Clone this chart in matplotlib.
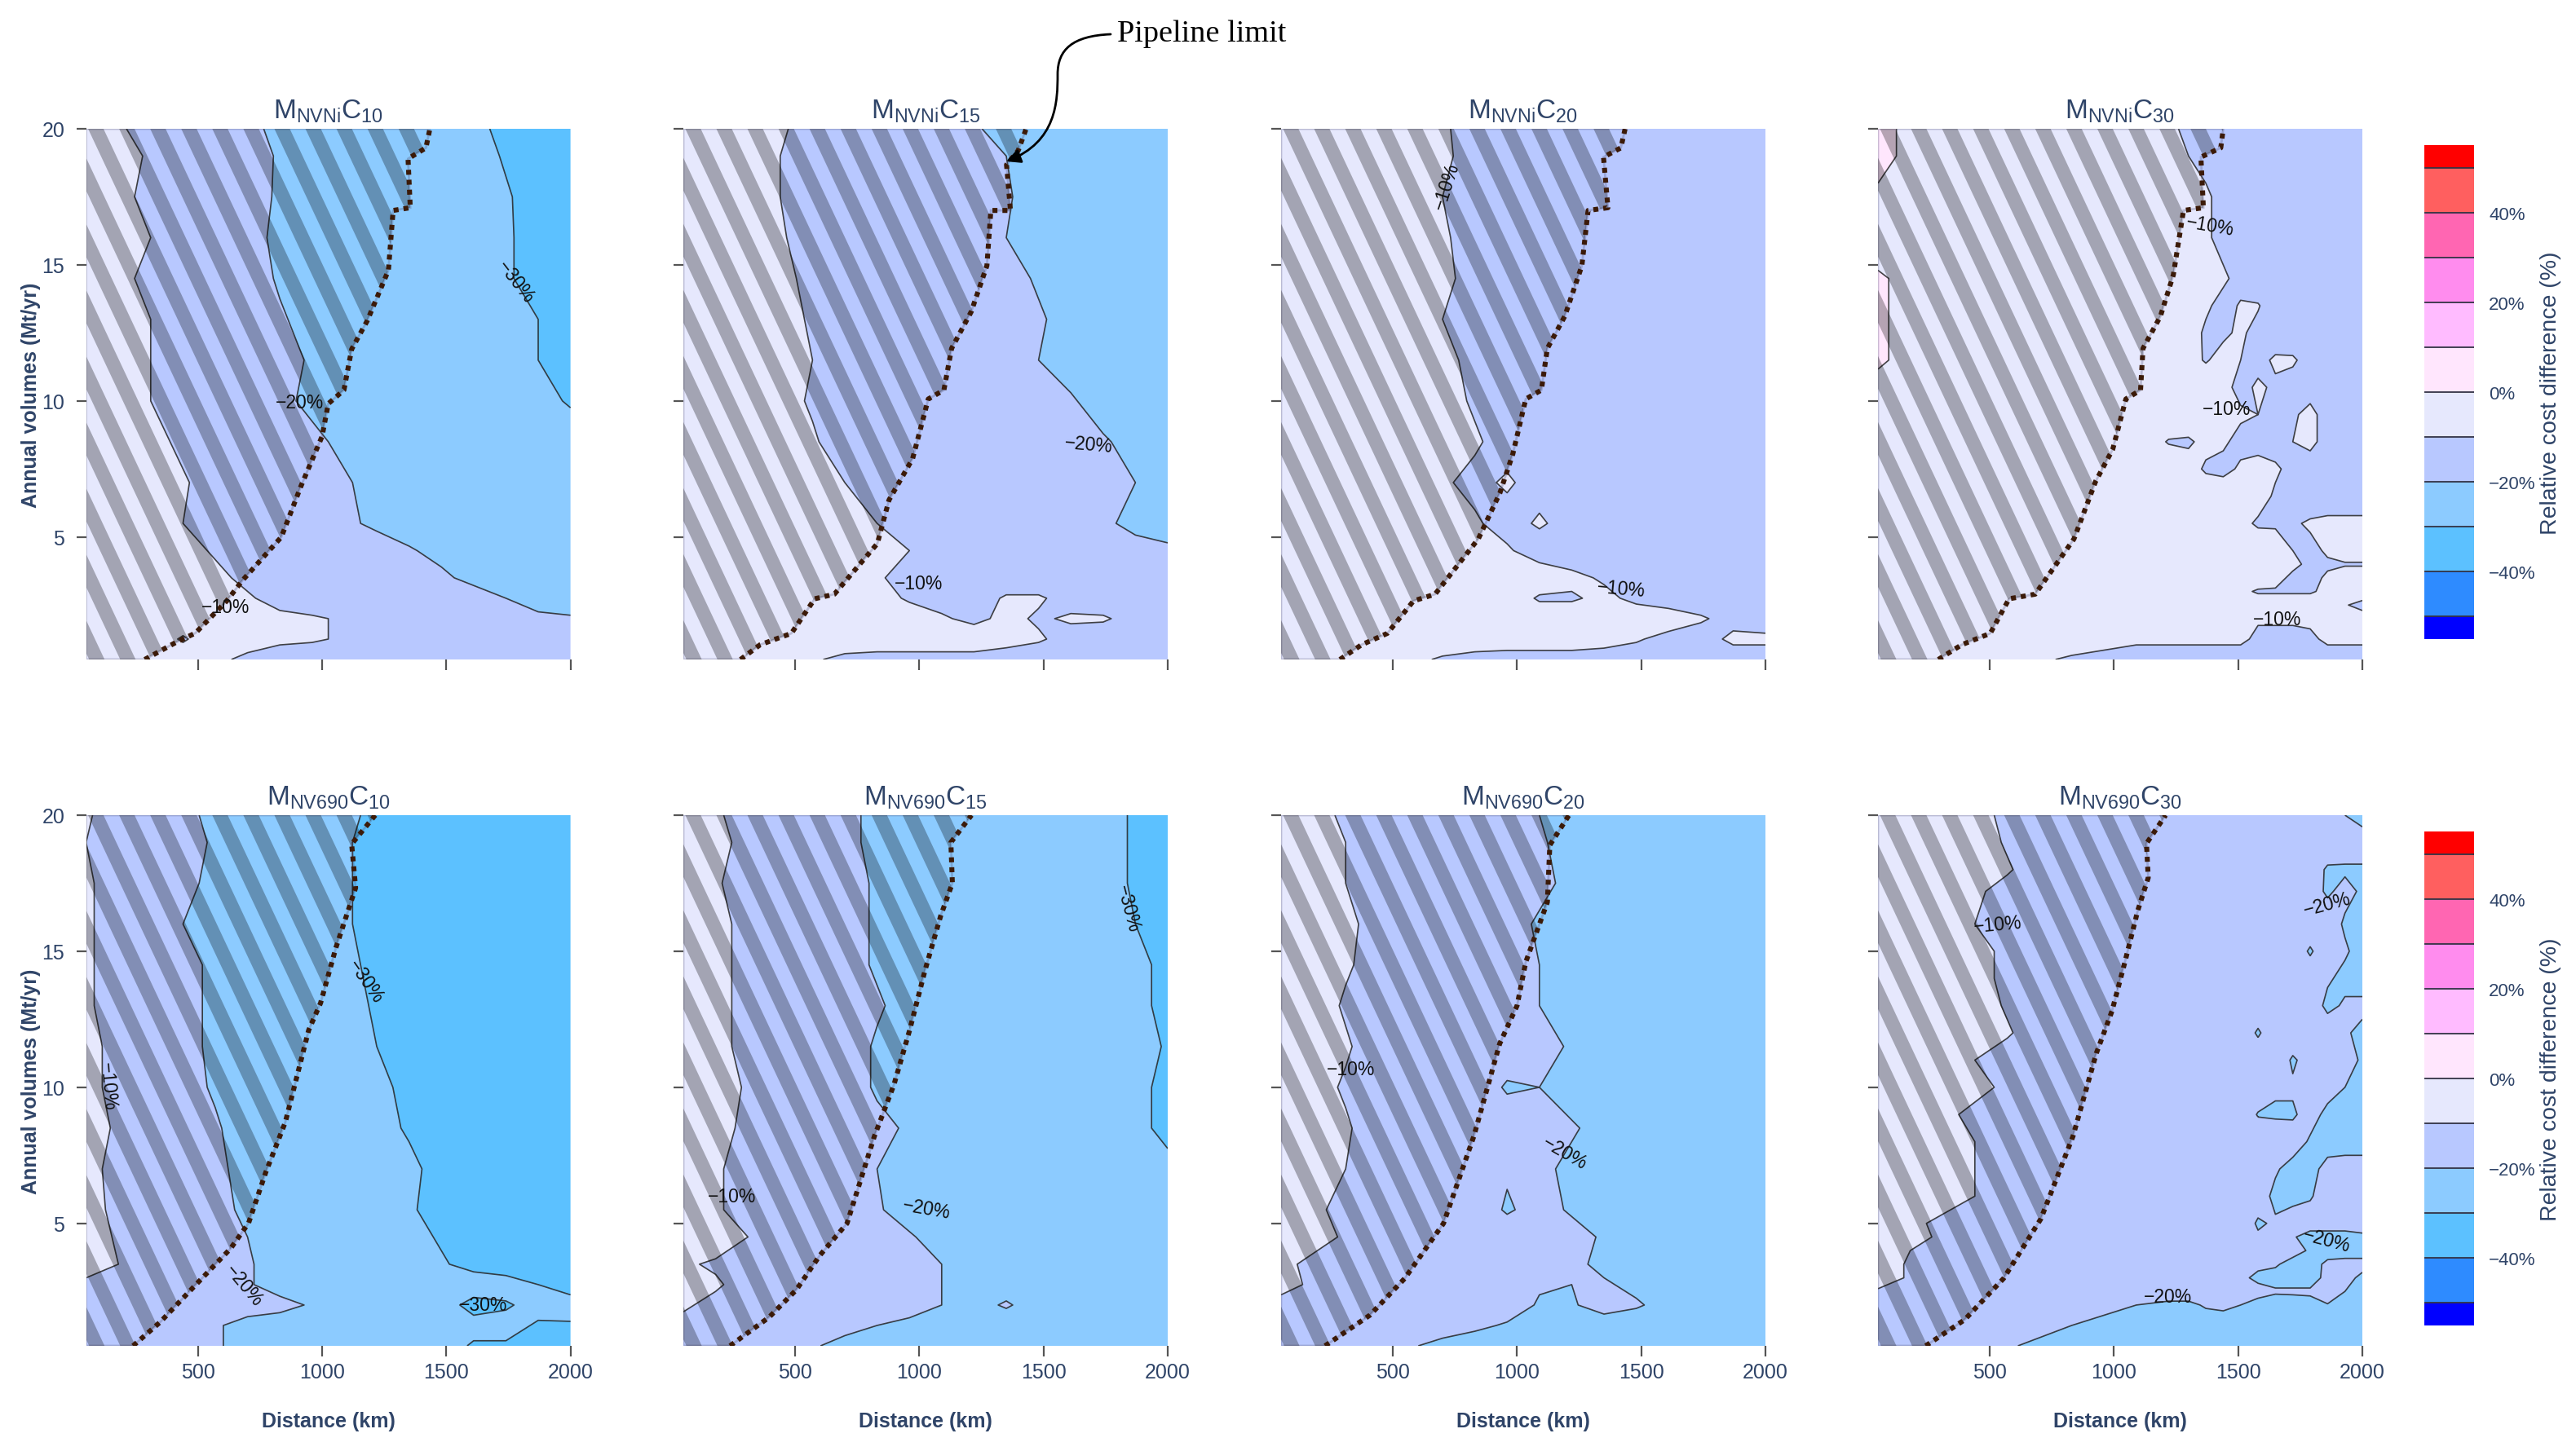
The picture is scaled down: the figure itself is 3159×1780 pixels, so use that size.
import numpy as np
import matplotlib
matplotlib.use('Agg')
import matplotlib.pyplot as plt
from matplotlib.patches import FancyArrowPatch, Polygon
from matplotlib.path import Path

plt.rcParams['font.family'] = 'Liberation Sans'
plt.rcParams['mathtext.fontset'] = 'custom'
plt.rcParams['mathtext.rm'] = 'Liberation Sans'
plt.rcParams['axes.unicode_minus'] = True

W, H = 3159, 1781
TXT = '#2f4468'

# Grids
distance = [50, 180, 310, 440, 570, 700, 830, 960, 1090, 1220, 1350, 1480, 1610, 1740, 1870, 2000]
volumes = [20, 19, 17.5, 16, 14.5, 13, 11.5, 10, 8.5, 7, 5.5, 4.5, 3.5, 2.75, 2, 1.25, 0.5]
# the two C30 panels have finer detail on the right
distance_fine = [50, 310, 570, 830, 1090, 1220, 1300, 1370, 1440, 1510, 1580, 1650, 1720, 1790, 1860, 1930, 2000]
volumes_nvni_c30 = [20, 19, 17.5, 16, 14.5, 13.5, 12.5, 11.5, 10.5, 9.5, 8.5, 7.5, 6.5, 5.5, 4.5, 4, 3.5, 3, 2.5, 2, 1.25, 0.5]
volumes_nv690_c30 = [20, 19, 18, 17.2, 16, 15, 14, 13, 12, 11, 10, 9, 8, 7, 6, 5, 4.5, 4, 3.5, 3, 2.5, 2, 1.25, 0.5]

levels = [-55, -50, -40, -30, -20, -10, 0, 10, 20, 30, 40, 50, 55]
band_colors = ['#0000ff', '#2e8bff', '#5cc1ff', '#8ccbff', '#b8c8ff', '#e6e8fd',
               '#ffe6fd', '#ffbbff', '#ff8cee', '#ff66b2', '#ff5f5f', '#ff0000']

nvni_c10 = [
    [-5, -9, -13, -15, -15, -18, -22, -25, -25, -25, -25, -25, -28, -32, -35, -35],
    [-5, -7, -11, -15, -15, -16, -21, -25, -25, -25, -25, -25, -26, -31, -35, -35],
    [-5, -8, -12, -15, -15, -17, -21, -25, -25, -25, -25, -25, -25, -29, -34, -35],
    [-5, -6, -10, -15, -15, -17, -22, -25, -25, -25, -25, -25, -25, -29, -33, -35],
    [-5, -8, -12, -15, -15, -16, -21, -25, -25, -25, -25, -25, -25, -29, -33, -35],
    [-5, -6, -10, -15, -15, -15, -19, -23, -25, -25, -25, -25, -25, -26, -30, -35],
    [-5, -6, -10, -15, -15, -15, -17, -21, -25, -25, -25, -25, -25, -26, -30, -35],
    [-5, -5, -10, -14, -15, -15, -18, -22, -25, -25, -25, -25, -25, -25, -27, -31],
    [-5, -5, -7, -12, -15, -15, -15, -18, -22, -25, -25, -25, -25, -25, -25, -25],
    [-5, -5, -5, -9, -14, -15, -15, -15, -19, -23, -25, -25, -25, -25, -25, -25],
    [-5, -5, -5, -10, -14, -15, -15, -15, -18, -22, -25, -25, -25, -25, -25, -25],
    [-5, -5, -5, -7, -11, -15, -15, -15, -15, -15, -19, -23, -25, -25, -25, -25],
    [-5, -5, -5, -5, -8, -12, -15, -15, -15, -15, -15, -18, -23, -25, -25, -25],
    [-5, -5, -5, -5, -5, -9, -13, -15, -15, -15, -15, -15, -15, -20, -24, -25],
    [-5, -5, -5, -5, -5, -7, -8, -9, -11, -15, -15, -15, -16, -17, -18, -19],
    [-5, -5, -5, -11, -5, -6, -8, -9, -11, -14, -15, -15, -15, -15, -15, -16],
    [-5, -5, -5, -5, -8, -12, -15, -15, -15, -15, -15, -15, -15, -15, -15, -19],
]
nvni_c15 = [
    [-5, -5, -5, -9, -13, -15, -15, -15, -15, -19, -23, -25, -25, -25, -25, -25],
    [-5, -5, -5, -10, -14, -15, -15, -15, -15, -16, -20, -25, -25, -25, -25, -25],
    [-5, -5, -5, -10, -14, -15, -15, -15, -15, -15, -19, -24, -25, -25, -25, -25],
    [-5, -5, -6, -9, -14, -15, -15, -15, -15, -16, -20, -25, -25, -25, -25, -25],
    [-5, -5, -5, -8, -12, -15, -15, -15, -15, -15, -17, -21, -25, -25, -25, -25],
    [-5, -5, -5, -7, -11, -15, -15, -15, -15, -15, -18, -19, -23, -25, -25, -25],
    [-5, -5, -5, -6, -10, -15, -15, -15, -15, -15, -16, -20, -24, -25, -25, -25],
    [-5, -5, -5, -7, -11, -15, -15, -15, -15, -15, -15, -15, -19, -24, -25, -25],
    [-5, -5, -5, -6, -9, -14, -15, -15, -15, -15, -15, -15, -15, -19, -23, -25],
    [-5, -5, -5, -5, -7, -10, -15, -15, -15, -15, -15, -15, -15, -16, -20, -24],
    [-5, -5, -5, -5, -5, -6, -10, -14, -15, -15, -15, -15, -15, -18, -23, -25],
    [-5, -5, -5, -5, -5, -5, -5, -10, -14, -15, -15, -15, -15, -15, -16, -18],
    [-5, -5, -5, -5, -5, -6, -9, -13, -15, -15, -15, -15, -15, -15, -15, -15],
    [-5, -5, -5, -5, -5, -5, -7, -11, -13, -14, -9, -9, -13, -15, -15, -15],
    [-5, -5, -5, -5, -5, -5, -5, -6, -9, -12, -8, -11, -9, -9, -13, -15],
    [-5, -5, -5, -5, -5, -5, -5, -5, -5, -5, -7, -9, -13, -15, -15, -15],
    [-5, -5, -5, -5, -9, -12, -13, -13, -13, -13, -14, -15, -15, -15, -15, -15],
]
nvni_c20 = [
    [-5, -5, -5, -6, -7, -9, -13, -15, -15, -15, -15, -15, -15, -15, -15, -15],
    [-5, -5, -5, -5, -7, -9, -12, -15, -15, -15, -15, -15, -15, -15, -15, -15],
    [-5, -5, -5, -6, -7, -10, -14, -15, -15, -15, -15, -15, -15, -15, -15, -15],
    [-5, -5, -5, -5, -7, -9, -13, -15, -15, -15, -15, -15, -15, -15, -15, -15],
    [-5, -5, -5, -5, -6, -8, -13, -15, -15, -15, -15, -15, -15, -15, -15, -15],
    [-5, -5, -5, -6, -8, -10, -14, -15, -15, -15, -15, -15, -15, -15, -15, -15],
    [-5, -5, -5, -5, -6, -8, -12, -15, -15, -15, -15, -15, -15, -15, -15, -15],
    [-5, -5, -5, -5, -5, -7, -11, -15, -15, -15, -15, -15, -15, -15, -15, -15],
    [-5, -5, -5, -5, -5, -6, -9, -13, -15, -15, -15, -15, -15, -15, -15, -15],
    [-5, -5, -5, -5, -6, -9, -12, -9, -13, -15, -15, -15, -15, -15, -15, -15],
    [-5, -5, -5, -5, -5, -6, -9, -13, -9, -13, -15, -15, -15, -15, -15, -15],
    [-5, -5, -5, -5, -5, -5, -6, -9, -14, -15, -15, -15, -15, -15, -15, -15],
    [-5, -5, -5, -5, -5, -5, -5, -5, -5, -8, -11, -15, -15, -15, -15, -15],
    [-5, -5, -5, -5, -5, -5, -5, -5, -11, -11, -8, -12, -15, -15, -15, -15],
    [-5, -5, -5, -5, -5, -5, -5, -5, -5, -5, -5, -5, -5, -9, -13, -15],
    [-5, -5, -5, -5, -5, -5, -5, -5, -5, -5, -6, -9, -13, -14, -8, -8],
    [-5, -5, -5, -5, -8, -11, -13, -14, -14, -14, -15, -15, -15, -15, -15, -15],
]
nvni_c30 = [
    [2, -5, -5, -5, -6, -9, -11, -13, -15, -15, -15, -15, -15, -15, -15, -15, -15],
    [2, -5, -5, -5, -5, -8, -10, -12, -15, -15, -15, -15, -15, -15, -15, -15, -15],
    [-1, -5, -5, -5, -5, -6, -7, -9, -12, -15, -15, -15, -15, -15, -15, -15, -15],
    [-4, -5, -5, -5, -5, -6, -7, -9, -12, -15, -15, -15, -15, -15, -15, -15, -15],
    [1, -5, -5, -5, -5, -5, -6, -8, -9, -12, -15, -15, -15, -15, -15, -15, -15],
    [1, -5, -5, -5, -5, -6, -7, -9, -12, -9.5, -9.5, -14, -15, -15, -15, -15, -15],
    [1, -5, -5, -5, -5, -5, -7, -11, -11, -9, -12, -14, -15, -15, -15, -15, -15],
    [1, -5, -5, -5, -5, -6, -8, -10.5, -8, -10, -12, -9, -9, -13, -15, -15, -15],
    [-2, -5, -5, -5, -5, -5, -5, -6, -8, -12, -9, -11, -13, -13, -15, -15, -15],
    [-5, -5, -5, -5, -5, -5, -5, -7, -9, -9, -10, -12, -11, -8, -13, -15, -15],
    [-5, -5, -5, -5, -5, -10.5, -11, -8, -9, -12, -13, -13, -10, -8, -13, -15, -15],
    [-5, -5, -5, -5, -5, -5, -7, -11, -12, -9, -7, -9, -12, -14, -15, -15, -15],
    [-5, -5, -5, -5, -5, -5, -5, -5, -5, -5, -7, -11, -14, -15, -15, -15, -15],
    [-5, -5, -5, -5, -5, -5, -5, -5, -5, -8, -11, -11, -11, -9, -8, -8, -8],
    [-5, -5, -5, -5, -5, -5, -5, -5, -5, -5, -5, -6, -10, -12, -9, -7, -7],
    [-5, -5, -5, -5, -5, -5, -5, -5, -5, -5, -5, -5, -8, -12, -11, -10.5, -10.5],
    [-5, -5, -5, -5, -5, -5, -5, -5, -5, -5, -5, -7, -12, -12, -9, -7, -7],
    [-5, -5, -5, -5, -5, -5, -5, -5, -5, -8, -11, -11, -11, -11, -8, -6, -6],
    [-5, -5, -5, -5, -5, -5, -5, -5, -5, -5, -5, -5, -5, -5, -5, -9.5, -12],
    [-5, -5, -5, -5, -5, -5, -5, -5, -5, -6, -9, -9, -9, -8, -7, -7, -7],
    [-5, -5, -5, -6, -8, -8, -8, -8, -8, -8, -12, -12, -12, -12, -8, -8, -8],
    [-5, -5, -7, -11, -15, -15, -15, -15, -15, -15, -15, -15, -15, -15, -15, -15, -15],
]
nv690_c10 = [
    [-9, -14, -15, -18, -22, -25, -25, -25, -28, -32, -35, -35, -35, -35, -35, -35],
    [-10, -14, -15, -17, -21, -25, -25, -25, -29, -33, -35, -35, -35, -35, -35, -35],
    [-9, -13, -15, -18, -22, -25, -25, -25, -29, -33, -35, -35, -35, -35, -35, -35],
    [-9, -13, -15, -20, -24, -25, -25, -25, -29, -33, -35, -35, -35, -35, -35, -35],
    [-9, -13, -15, -17, -22, -25, -25, -25, -28, -32, -35, -35, -35, -35, -35, -35],
    [-9, -13, -15, -17, -22, -25, -25, -25, -27, -31, -35, -35, -35, -35, -35, -35],
    [-8, -12, -15, -17, -22, -25, -25, -25, -26, -30, -35, -35, -35, -35, -35, -35],
    [-8, -12, -15, -17, -21, -25, -25, -25, -25, -28, -32, -35, -35, -35, -35, -35],
    [-7, -11, -15, -15, -19, -24, -25, -25, -25, -27, -31, -35, -35, -35, -35, -35],
    [-8, -12, -15, -15, -18, -23, -25, -25, -25, -25, -28, -33, -35, -35, -35, -35],
    [-7, -12, -15, -15, -17, -22, -25, -25, -25, -25, -29, -33, -35, -35, -35, -35],
    [-6, -11, -15, -15, -16, -20, -24, -25, -25, -25, -27, -31, -35, -35, -35, -35],
    [-6, -10, -14, -15, -15, -19, -24, -25, -25, -25, -25, -29, -33, -35, -35, -35],
    [-12, -13, -15, -15, -15, -19, -24, -25, -25, -25, -25, -25, -25, -26, -30, -34],
    [-15, -15, -15, -15, -15, -16, -17, -21, -25, -25, -25, -26, -33, -31, -27, -26],
    [-15, -15, -15, -15, -19, -23, -25, -25, -25, -25, -25, -25, -27, -27, -31, -31],
    [-15, -15, -15, -15, -19, -23, -25, -25, -25, -25, -25, -26, -31, -31, -33, -33],
]
nv690_c15 = [
    [-5, -9, -13, -15, -15, -18, -22, -25, -25, -25, -25, -25, -25, -27, -31, -35],
    [-5, -8, -12, -15, -15, -18, -22, -25, -25, -25, -25, -25, -25, -27, -31, -35],
    [-5, -9, -14, -15, -15, -17, -21, -25, -25, -25, -25, -25, -25, -27, -31, -35],
    [-5, -8, -12, -15, -15, -17, -21, -25, -25, -25, -25, -25, -25, -25, -30, -34],
    [-5, -8, -12, -15, -15, -17, -21, -25, -25, -25, -25, -25, -25, -25, -28, -32],
    [-5, -8, -12, -15, -15, -15, -19, -23, -25, -25, -25, -25, -25, -25, -28, -32],
    [-5, -8, -12, -15, -15, -16, -21, -25, -25, -25, -25, -25, -25, -25, -26, -31],
    [-5, -6, -11, -15, -15, -16, -21, -25, -25, -25, -25, -25, -25, -25, -28, -32],
    [-5, -7, -12, -15, -15, -15, -18, -21, -25, -25, -25, -25, -25, -25, -28, -32],
    [-5, -9, -13, -15, -15, -16, -20, -24, -25, -25, -25, -25, -25, -25, -26, -28],
    [-5, -9, -13, -15, -15, -15, -19, -24, -25, -25, -25, -25, -25, -25, -25, -25],
    [-5, -6, -10, -15, -15, -15, -15, -19, -24, -25, -25, -25, -25, -25, -25, -25],
    [-9, -11, -15, -15, -15, -15, -15, -15, -20, -24, -25, -25, -25, -25, -25, -25],
    [-6, -9, -13, -15, -15, -15, -15, -16, -20, -22, -24, -25, -25, -25, -25, -25],
    [-9, -12, -15, -15, -15, -15, -15, -15, -20, -23, -19, -24, -25, -25, -25, -25],
    [-12, -14, -15, -15, -15, -17, -20, -23, -22, -24, -25, -25, -25, -25, -25, -25],
    [-15, -15, -15, -15, -19, -23, -25, -25, -25, -25, -25, -25, -25, -25, -25, -25],
]
nv690_c20 = [
    [-5, -8, -11, -15, -15, -15, -15, -17, -20, -24, -25, -25, -25, -25, -25, -25],
    [-5, -5, -10, -14, -15, -15, -15, -16, -19, -23, -25, -25, -25, -25, -25, -25],
    [-5, -5, -10, -14, -15, -15, -15, -16, -18, -22, -25, -25, -25, -25, -25, -25],
    [-5, -5, -8, -13, -15, -15, -15, -17, -21, -25, -25, -25, -25, -25, -25, -25],
    [-5, -5, -9, -13, -15, -15, -15, -16, -20, -24, -25, -25, -25, -25, -25, -25],
    [-5, -6, -11, -15, -15, -15, -15, -16, -20, -24, -25, -25, -25, -25, -25, -25],
    [-5, -5, -9, -14, -15, -15, -15, -15, -17, -21, -25, -25, -25, -25, -25, -25],
    [-5, -7, -11, -15, -15, -15, -15, -21, -20, -24, -25, -25, -25, -25, -25, -25],
    [-5, -5, -9, -14, -15, -15, -15, -15, -18, -19, -23, -25, -25, -25, -25, -25],
    [-5, -5, -10, -14, -15, -15, -15, -19, -18, -22, -25, -25, -25, -25, -25, -25],
    [-5, -8, -13, -15, -15, -15, -15, -21, -17, -21, -25, -25, -25, -25, -25, -25],
    [-5, -7, -11, -15, -15, -15, -15, -15, -15, -17, -21, -25, -25, -25, -25, -25],
    [-8, -12, -15, -15, -15, -15, -15, -15, -15, -18, -22, -25, -25, -25, -25, -25],
    [-8, -11, -14, -15, -15, -15, -15, -15, -19, -20, -19, -22, -25, -25, -25, -25],
    [-12, -15, -15, -15, -15, -15, -15, -15, -21, -21, -16, -19, -23, -25, -25, -25],
    [-15, -15, -15, -15, -15, -15, -18, -21, -21, -23, -25, -25, -25, -25, -25, -25],
    [-15, -15, -15, -15, -19, -23, -25, -25, -25, -25, -25, -25, -25, -25, -25, -25],
]
nv690_c30 = [
    [-5, -6, -11, -15, -15, -15, -15, -15, -15, -15, -15, -15, -15, -15, -17, -20, -23],
    [-5, -5, -10.5, -15, -15, -15, -15, -15, -15, -15, -15, -15, -15, -15, -15, -16, -16],
    [-5, -5, -9.5, -15, -15, -15, -15, -15, -15, -15, -15, -15, -15, -16, -21, -21, -21],
    [-5, -7, -11.5, -15, -15, -15, -15, -15, -15, -15, -15, -15, -15, -17, -21, -18, -21],
    [-5, -8, -12, -15, -15, -15, -15, -15, -15, -15, -15, -15, -15, -15, -16, -21, -23],
    [-5, -6, -11, -15, -15, -15, -15, -15, -15, -15, -15, -15, -15, -21, -15, -19, -23],
    [-5, -6, -11, -15, -15, -15, -15, -15, -15, -15, -15, -15, -15, -15, -19, -22, -24],
    [-5, -5, -10.5, -15, -15, -15, -15, -15, -15, -15, -15, -15, -15, -15, -22, -19, -18],
    [-5, -5, -9.5, -15, -15, -15, -15, -15, -15, -15, -21, -15, -15, -15, -15, -19, -22],
    [-5, -8, -12, -15, -15, -15, -15, -15, -15, -15, -15, -15, -21, -17, -15, -17, -21],
    [-5, -6, -11, -15, -15, -15, -15, -15, -15, -15, -15, -19, -19, -15, -17, -20, -23],
    [-5, -9, -13, -15, -15, -15, -15, -15, -15, -15, -20.5, -21, -21, -17, -22, -24, -25],
    [-5, -8, -12, -15, -15, -15, -15, -15, -15, -15, -15, -15, -16, -21, -24, -25, -25],
    [-5, -8, -12, -15, -15, -15, -15, -15, -15, -15, -15, -19, -23, -23, -17, -15, -15],
    [-5, -8, -12, -15, -15, -15, -15, -15, -15, -15, -16, -22, -23, -21, -15, -15, -15],
    [-7, -11, -15, -15, -15, -15, -15, -15, -15, -15, -21, -19, -15, -15, -15, -15, -15],
    [-5, -11, -15, -15, -15, -15, -15, -15, -15, -15, -19, -15, -19, -24, -24, -24, -22],
    [-7, -13, -15, -15, -15, -15, -15, -15, -15, -15, -15, -15, -17, -21, -24, -24, -24],
    [-8, -13, -15, -15, -15, -15, -15, -15, -15, -15, -18, -19, -23, -24, -18, -17, -17],
    [-8, -13, -15, -15, -15, -15, -15, -15, -15, -18, -22, -23, -23, -23, -18, -17, -22],
    [-10.5, -15, -15, -15, -15, -15, -15, -15, -15, -15, -17, -19, -19, -19, -15, -20, -22],
    [-13, -15, -15, -15, -20, -22, -22, -19, -18, -20, -23, -24, -23, -22, -20.5, -21, -21],
    [-15, -15, -15, -20, -24, -25, -25, -25, -25, -25, -25, -25, -25, -25, -25, -25, -25],
    [-15, -15, -19, -25, -25, -25, -25, -25, -25, -25, -25, -25, -25, -25, -25, -25, -25],
]

# Pipeline limit
limit_x_1 = [286, 412, 490, 616, 679, 836, 915, 1000, 1025, 1088, 1119, 1182, 1267, 1286, 1355, 1346, 1418, 1434]
limit_y_1 = [0.5, 1.13, 1.47, 2.65, 3.4, 5.0, 6.87, 8.7, 9.9, 10.4, 11.9, 12.95, 14.8, 17.0, 17.1, 18.9, 19.3, 20]
limit_x_2 = [280, 359, 485, 579, 658, 831, 878, 973, 1036, 1099, 1130, 1209, 1272, 1288, 1367, 1351, 1398, 1430]
limit_y_2 = [0.5, 1.04, 1.46, 2.73, 2.9, 4.76, 6.36, 7.88, 10.07, 10.4, 11.93, 13.28, 14.97, 17, 17, 18.68, 19.2, 20]
limit_x_3 = [287, 374, 478, 583, 670, 844, 931, 983, 1035, 1098, 1122, 1192, 1261, 1286, 1366, 1348, 1418, 1435]
limit_y_3 = [0.5, 1.04, 1.46, 2.65, 2.9, 4.93, 6.62, 8.05, 10.07, 10.4, 11.93, 13.11, 14.97, 17, 17.1, 18.96, 19.3, 20]
limit_x_4 = [293, 387, 502, 578, 683, 839, 926, 995, 1048, 1107, 1117, 1187, 1239, 1280, 1360, 1350, 1430, 1440]
limit_y_4 = [0.5, 1.04, 1.46, 2.73, 2.9, 4.93, 7.04, 8.22, 10.07, 10.4, 11.93, 13.11, 14.63, 17, 17.1, 18.96, 19.3, 20]
limit_x_5 = [239, 349, 490, 632, 704, 773, 852, 946, 994, 1056, 1135, 1119, 1214]
limit_y_5 = [0.5, 1.38, 2.73, 4.08, 5.01, 6.87, 8.72, 12.1, 13.1, 15.14, 17.33, 18.94, 20]
limit_x_6 = [238, 395, 505, 600, 709, 819, 898, 961, 1023, 1086, 1133, 1127, 1210]
limit_y_6 = [0.5, 1.55, 2.56, 3.83, 5.0, 8.2, 10.1, 12.1, 14.3, 16.3, 17.5, 19, 20]
limit_x_7 = [227, 408, 548, 704, 826, 930, 1000, 1035, 1122, 1132, 1209]
limit_y_7 = [0.5, 1.63, 2.98, 5.0, 8.2, 11.6, 13, 14.6, 16.8, 18.9, 20]
limit_x_8 = [242, 399, 556, 706, 835, 929, 992, 1044, 1096, 1138, 1131, 1208]
limit_y_8 = [0.5, 1.46, 2.98, 5.17, 8.2, 11.25, 12.8, 14.6, 16.5, 17.7, 18.96, 20]

titles = [r'$\mathregular{M_{NVNi}C_{10}}$', r'$\mathregular{M_{NVNi}C_{15}}$',
          r'$\mathregular{M_{NVNi}C_{20}}$', r'$\mathregular{M_{NVNi}C_{30}}$',
          r'$\mathregular{M_{NV690}C_{10}}$', r'$\mathregular{M_{NV690}C_{15}}$',
          r'$\mathregular{M_{NV690}C_{20}}$', r'$\mathregular{M_{NV690}C_{30}}$']
grids = [(distance, volumes, nvni_c10), (distance, volumes, nvni_c15), (distance, volumes, nvni_c20),
         (distance_fine, volumes_nvni_c30, nvni_c30), (distance, volumes, nv690_c10), (distance, volumes, nv690_c15),
         (distance, volumes, nv690_c20), (distance_fine, volumes_nv690_c30, nv690_c30)]
limits = [(limit_x_1, limit_y_1), (limit_x_2, limit_y_2), (limit_x_3, limit_y_3), (limit_x_4, limit_y_4),
          (limit_x_5, limit_y_5), (limit_x_6, limit_y_6), (limit_x_7, limit_y_7), (limit_x_8, limit_y_8)]

# x, y, text, rotation
contour_labels = [
    [(610, 2.44, '\u221210%', 0), (909, 9.94, '\u221220%', 0), (1780, 14.4, '\u221230%', -52)],
    [(998, 3.3, '\u221210%', 0), (1682, 8.4, '\u221220%', -5)],
    [(715, 17.9, '\u221210%', 72), (1418, 3.1, '\u221210%', -5)],
    [(1388, 16.45, '\u221210%', -10), (1454, 9.7, '\u221210%', 0), (1656, 1.97, '\u221210%', 0)],
    [(138, 10.07, '\u221210%', -85), (1176, 13.9, '\u221230%', -55), (685, 2.73, '\u221220%', -50), (1648, 2.0, '\u221230%', 0)],
    [(1840, 16.6, '\u221230%', -75), (245, 6.0, '\u221210%', 0), (1030, 5.55, '\u221220%', -10)],
    [(332, 10.67, '\u221210%', 0), (1191, 7.6, '\u221220%', -30)],
    [(531, 16.0, '\u221210%', 5), (1857, 16.74, '\u221220%', 15), (1857, 4.37, '\u221220%', -15), (1218, 2.31, '\u221220%', 0)],
]

lefts = [105.6, 838, 1571, 2303]
tops = [159, 1001]
ax_w, ax_h = 594, 651
stripe_period = 125
stripe_width = 62
stripe_shift = 51.5  # km per Mt/yr


def px_axes(l, t, w, h):
    return fig.add_axes([l / W, 1 - (t + h) / H, w / W, h / H])


fig = plt.figure(figsize=(W / 100, H / 100), dpi=100)
cf = None
for i in range(8):
    ax = px_axes(lefts[i % 4], tops[i // 4], ax_w, ax_h)
    xx, yy, grid = grids[i]
    z = np.array(grid, dtype=float)[::-1]
    yy = np.array(yy)[::-1]
    cf = ax.contourf(xx, yy, z, levels=levels, colors=band_colors, antialiased=True)
    ax.contour(xx, yy, z, levels=levels[1:-1], colors='#222222', linewidths=1.2, alpha=0.85, linestyles='solid')

    # shaded stripes left of the pipeline limit
    lx, ly = limits[i]
    corners = list(zip(lx, ly)) + [(50, 20), (50, 0.5)]
    clip = Polygon(corners, closed=True, facecolor='none', edgecolor='#555577', lw=2, alpha=0.3, zorder=3)
    ax.add_patch(clip)
    for k in range(-12, 14):
        tx = 58 + k * stripe_period
        drop = stripe_shift * 19.5
        st = Polygon([(tx, 20), (tx + stripe_width, 20), (tx + stripe_width + drop, 0.5), (tx + drop, 0.5)],
                     closed=True, facecolor='black', alpha=0.29, lw=0, zorder=3)
        ax.add_patch(st)
        st.set_clip_path(clip)
    ax.plot(lx, ly, color='#3b1a08', lw=4.4, linestyle=(0, (1, 1)), zorder=4, dash_capstyle='butt')

    for x, y, s, rot in contour_labels[i]:
        ax.text(x, y, s, fontsize=16.5, color='#111111', rotation=rot, ha='center', va='center',
                rotation_mode='anchor', zorder=5)

    ax.set_xlim(50, 2000)
    ax.set_ylim(0.5, 20)
    ax.set_xticks([500, 1000, 1500, 2000])
    ax.set_yticks([5, 10, 15, 20])
    for side in ax.spines:
        ax.spines[side].set_visible(False)
    ax.tick_params(axis='both', length=9, width=1.6, color='#555555', labelcolor=TXT, labelsize=18)
    ax.tick_params(axis='x', labelbottom=i >= 4, pad=5.5)
    ax.tick_params(axis='y', labelleft=i % 4 == 0, pad=10)
    ax.set_title(titles[i], fontsize=24, color=TXT, pad=10)
    if i >= 4:
        ax.set_xlabel('Distance (km)', fontsize=18, fontweight='bold', color=TXT, labelpad=26)
    if i % 4 == 0:
        ax.set_ylabel('Annual volumes (Mt/yr)', fontsize=18, fontweight='bold', color=TXT, labelpad=1)

# colour bars
for top in (179, 1021):
    cax = px_axes(2973, top, 61, 606)
    cb = fig.colorbar(cf, cax=cax, spacing='proportional', ticks=[-40, -20, 0, 20, 40], drawedges=True)
    cb.ax.set_yticklabels(['\u221240%', '\u221220%', '0%', '20%', '40%'])
    cb.ax.tick_params(length=0, labelsize=16, labelcolor=TXT, pad=13)
    cb.dividers.set_color('#333344')
    cb.dividers.set_linewidth(1.3)
    cb.outline.set_visible(False)
    cb.set_label('Relative cost difference (%)', fontsize=20.5, color=TXT, labelpad=4)

# annotation
fig.text(1370 / W, 1 - 42 / H, 'Pipeline limit', fontsize=27.5, family='Liberation Serif', color='black',
         ha='left', va='center')
pts = [(1362, 43), (1315, 45), (1297, 62), (1297, 92), (1297, 125), (1296, 175), (1234, 199)]
codes = [Path.MOVETO, Path.CURVE4, Path.CURVE4, Path.CURVE4, Path.CURVE4, Path.CURVE4, Path.CURVE4]
path = Path([(x / W, 1 - y / H) for x, y in pts], codes)
arrow = FancyArrowPatch(path=path, arrowstyle='-|>', mutation_scale=26, lw=2, color='black',
                        transform=fig.transFigure, zorder=10)
fig.add_artist(arrow)

fig.savefig('out.png', dpi=100)
